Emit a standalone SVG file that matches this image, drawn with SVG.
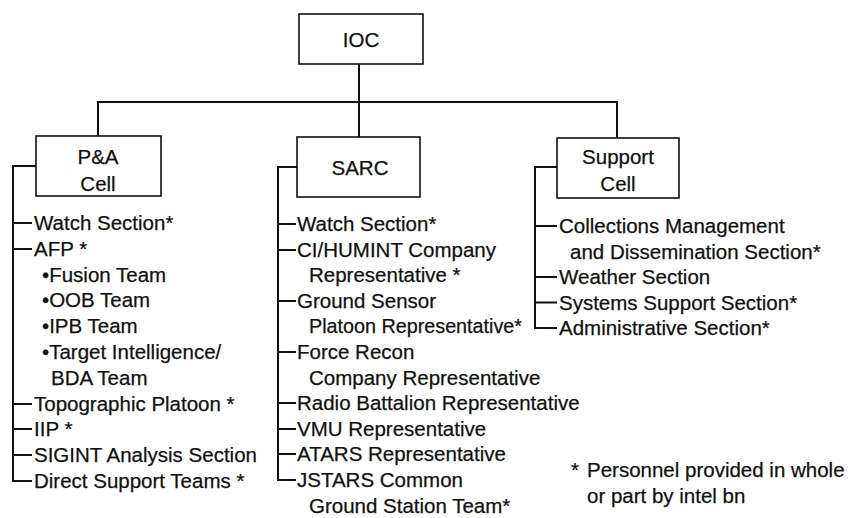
<svg xmlns="http://www.w3.org/2000/svg" width="851" height="518" viewBox="0 0 851 518">
  <style>
    .t { font-family: "Liberation Sans", Arial, Helvetica, sans-serif; font-size: 20.5px; fill: #111; stroke: #111; stroke-width: 0.25; }
    .c { text-anchor: middle; }
    .box { fill: #fff; stroke: #111; stroke-width: 1.6; }
    .ln { fill: none; stroke: #111; stroke-width: 2; stroke-linecap: square; }
  </style>
  <rect width="851" height="518" fill="#fff"/>

  <!-- connectors: tree links and list brackets -->
  <g id="connectors" class="ln">
    <path d="M359 64 V102 M98 102 H617 M98 102 V136 M359 102 V137 M617 102 V138"/>
    <!-- P&A Cell list bracket -->
    <path d="M36 166 H13 V481 H31"/>
    <path d="M13 223 H31 M13 249 H31 M13 404 H31 M13 429 H31 M13 455 H31"/>
    <!-- SARC list bracket -->
    <path d="M297 167 H278 V480 H295"/>
    <path d="M278 224 H295 M278 250 H295 M278 301 H295 M278 352 H295 M278 403 H295 M278 429 H295 M278 454 H295"/>
    <!-- Support Cell list bracket -->
    <path d="M557 167 H535 V328 H556"/>
    <path d="M535 226 H556 M535 277 H556 M535 302.5 H556"/>
  </g>

  <g id="ioc">
    <rect class="box" x="299" y="14" width="124" height="50"/>
    <text class="t c" x="361" y="47">IOC</text>
  </g>

  <g id="pa-cell">
    <rect class="box" x="36" y="136" width="125" height="60"/>
    <text class="t c" x="98" y="164">P&amp;A</text>
    <text class="t c" x="98" y="191">Cell</text>
    <text class="t" x="34" y="230">Watch Section*</text>
    <text class="t" x="34" y="255.8">AFP *</text>
    <text class="t" x="42" y="281.6">•Fusion Team</text>
    <text class="t" x="42" y="307.4">•OOB Team</text>
    <text class="t" x="42" y="333.2">•IPB Team</text>
    <text class="t" x="42" y="359">•Target Intelligence/</text>
    <text class="t" x="51" y="384.8">BDA Team</text>
    <text class="t" x="34" y="410.6">Topographic Platoon *</text>
    <text class="t" x="34" y="436.4">IIP *</text>
    <text class="t" x="34" y="462.2">SIGINT Analysis Section</text>
    <text class="t" x="34" y="488">Direct Support Teams *</text>
  </g>

  <g id="sarc">
    <rect class="box" x="297" y="137" width="123" height="60"/>
    <text class="t c" x="360" y="175">SARC</text>
    <text class="t" x="297" y="231">Watch Section*</text>
    <text class="t" x="297" y="256.6">CI/HUMINT Company</text>
    <text class="t" x="309" y="282.2">Representative *</text>
    <text class="t" x="297" y="307.8">Ground Sensor</text>
    <text class="t" x="309" y="333.4" textLength="213" lengthAdjust="spacingAndGlyphs">Platoon Representative*</text>
    <text class="t" x="297" y="359">Force Recon</text>
    <text class="t" x="309" y="384.6">Company Representative</text>
    <text class="t" x="297" y="410.2">Radio Battalion Representative</text>
    <text class="t" x="297" y="435.8">VMU Representative</text>
    <text class="t" x="297" y="461.4">ATARS Representative</text>
    <text class="t" x="297" y="487">JSTARS Common</text>
    <text class="t" x="309" y="512.6">Ground Station Team*</text>
  </g>

  <g id="support-cell">
    <rect class="box" x="557" y="138" width="122" height="60"/>
    <text class="t c" x="618" y="164">Support</text>
    <text class="t c" x="618" y="191">Cell</text>
    <text class="t" x="559" y="233">Collections Management</text>
    <text class="t" x="570" y="258.5">and Dissemination Section*</text>
    <text class="t" x="559" y="284">Weather Section</text>
    <text class="t" x="559" y="309.5">Systems Support Section*</text>
    <text class="t" x="559" y="335">Administrative Section*</text>
  </g>

  <g id="footnote">
    <text class="t" x="571" y="477">*</text>
    <text class="t" x="587" y="477">Personnel provided in whole</text>
    <text class="t" x="587" y="503">or part by intel bn</text>
  </g>
</svg>
